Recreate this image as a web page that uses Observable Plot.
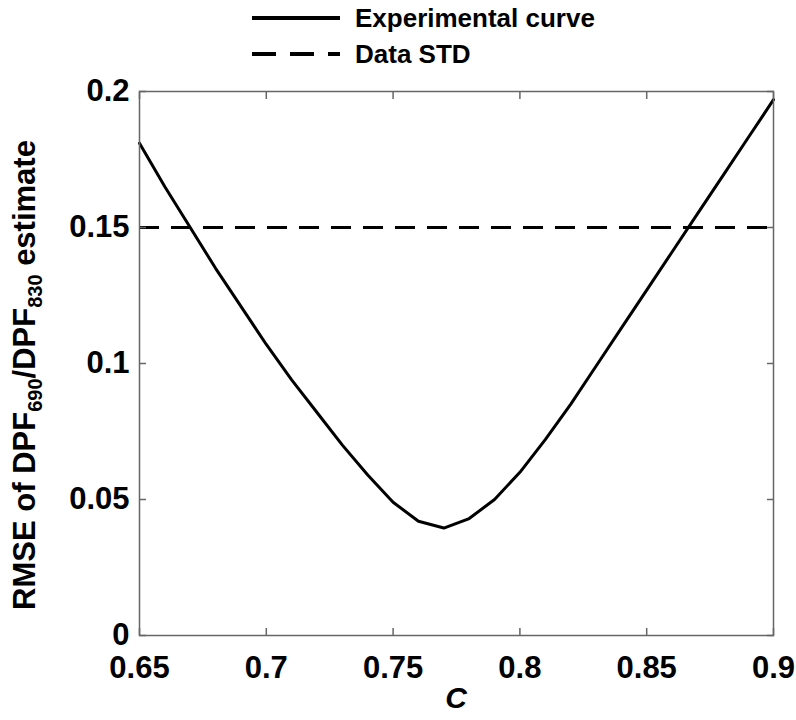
<!DOCTYPE html>
<html><head><meta charset="utf-8">
<script src="https://cdn.jsdelivr.net/npm/d3@7"></script>
<script src="https://cdn.jsdelivr.net/npm/@observablehq/plot@0.6"></script>
<style>
body{margin:0;background:#fff;}
#legend,#chart{width:796px;}
#legend svg,#chart svg{display:block;}
</style></head><body>
<div id="legend"></div>
<div id="chart"></div>
<script>
// ---- data ----
const cValues = [0.65,0.66,0.67,0.68,0.69,0.70,0.71,0.72,0.73,0.74,0.75,0.76,0.77,0.78,0.79,0.80,0.81,0.82,0.83,0.84,0.85,0.86,0.87,0.88,0.89,0.90];
const rmseValues = [0.181,0.165,0.150,0.135,0.121,0.107,0.094,0.082,0.070,0.059,0.049,0.042,0.0395,0.043,0.050,0.060,0.072,0.085,0.099,0.113,0.127,0.141,0.155,0.169,0.183,0.197];
const stdLevel = 0.15;
const xTicks = [0.65,0.7,0.75,0.8,0.85,0.9];
const xTickLabels = ["0.65","0.7","0.75","0.8","0.85","0.9"];
const yTicks = [0,0.05,0.1,0.15,0.2];
const yTickLabels = ["0","0.05","0.1","0.15","0.2"];
const seriesNames = ["Experimental curve","Data STD"];
const xLabel = "C";

const curve = cValues.map((c,i)=>({c, rmse: rmseValues[i]}));
const FONT = '"Liberation Sans", Arial, sans-serif';
const DASH = "20,12";

// ---- legend (above the chart) ----
const LEG_H = 72;
const leg = d3.select("#legend").append("svg").attr("width",796).attr("height",LEG_H);
const legItems = [{name: seriesNames[0], dash: null, y: 18},{name: seriesNames[1], dash: "24,14", y: 54}];
legItems.forEach(it=>{
  leg.append("line").attr("x1",252).attr("x2",340).attr("y1",it.y).attr("y2",it.y)
    .attr("stroke","black").attr("stroke-width",4).attr("stroke-dasharray",it.dash);
  leg.append("text").attr("x",355).attr("y",it.y).attr("dy","0.35em")
    .attr("font-family",FONT).attr("font-weight","bold").attr("font-size",26)
    .text(it.name);
});

// ---- chart ----
const H = 720 - LEG_H;
const tickOpts = {tickSize: -7, stroke: "#666", strokeWidth: 1.5, label: null, tickFormat: () => ""};
const chart = Plot.plot({
  width: 796, height: H,
  marginLeft: 139, marginRight: 23, marginTop: 91 - LEG_H, marginBottom: 85,
  style: {fontFamily: FONT, background: "white", overflow: "visible"},
  x: {domain: [0.65, 0.9]},
  y: {domain: [0, 0.2]},
  marks: [
    Plot.ruleY([stdLevel], {stroke: "black", strokeWidth: 3, strokeDasharray: DASH}),
    Plot.line(curve, {x: "c", y: "rmse", stroke: "black", strokeWidth: 3}),
    Plot.frame({stroke: "#666", strokeWidth: 1.5}),
    Plot.axisX({ticks: xTicks, anchor: "bottom", ...tickOpts}),
    Plot.axisX({ticks: xTicks, anchor: "top", ...tickOpts}),
    Plot.axisY({ticks: yTicks, anchor: "left", ...tickOpts}),
    Plot.axisY({ticks: yTicks, anchor: "right", ...tickOpts}),
    Plot.axisX({ticks: xTicks, anchor: "bottom", tickSize: 0, tickPadding: 20, label: null,
      tickFormat: d => xTickLabels[xTicks.indexOf(d)], fontSize: 31, fontWeight: "bold", fill: "black"}),
    Plot.axisY({ticks: yTicks, anchor: "left", tickSize: 0, tickPadding: 10, label: null,
      tickFormat: d => yTickLabels[yTicks.indexOf(d)], fontSize: 31, fontWeight: "bold", fill: "black"})
  ]
});
document.getElementById("chart").appendChild(chart);

// axis titles
const svg = d3.select(chart);
const yl = svg.append("text")
  .attr("transform", `translate(24,${375 - LEG_H}) rotate(-90)`)
  .attr("text-anchor","middle").attr("dy","0.35em")
  .attr("font-family", FONT).attr("font-weight","bold").attr("font-size",31).attr("fill","black");
yl.append("tspan").text("RMSE of DPF");
yl.append("tspan").attr("font-size",20).attr("dy",7).text("690");
yl.append("tspan").attr("dy",-7).text("/DPF");
yl.append("tspan").attr("font-size",20).attr("dy",7).text("830");
yl.append("tspan").attr("dy",-7).text(" estimate");

svg.append("text").attr("x",456).attr("y",697 - LEG_H).attr("dy","0.35em")
  .attr("text-anchor","middle").attr("font-family",FONT).attr("font-weight","bold")
  .attr("font-style","italic").attr("font-size",30).attr("fill","black").text(xLabel);
</script>
</body></html>
